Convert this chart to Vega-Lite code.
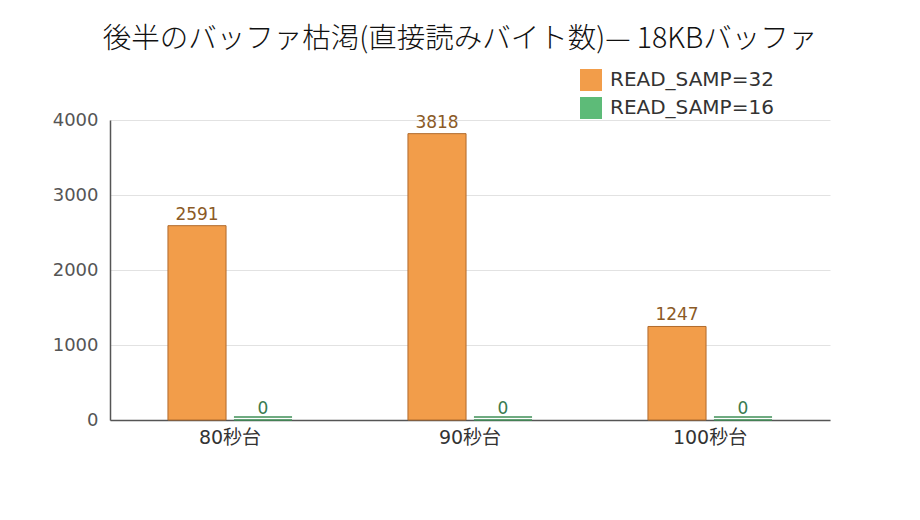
{
  "$schema": "https://vega.github.io/schema/vega-lite/v6.json",
  "autosize": {"type": "none"},
  "width": 720,
  "height": 300,
  "padding": {"left": 110, "top": 120, "right": 90, "bottom": 100},
  "background": "white",
  "config": {
    "font": "DejaVu Sans, Noto Sans CJK JP",
    "view": {"stroke": null}
  },
  "title": {
    "text": "後半のバッファ枯渇(直接読みバイト数)— 18KBバッファ",
    "font": "Noto Sans CJK JP",
    "fontSize": 28.5,
    "fontWeight": 300,
    "color": "#111",
    "anchor": "middle",
    "dx": -10,
    "offset": 16
  },
  "data": {
    "values": [
      {"period": "80秒台", "series": "READ_SAMP=32", "bytes": 2591},
      {"period": "80秒台", "series": "READ_SAMP=16", "bytes": 0},
      {"period": "90秒台", "series": "READ_SAMP=32", "bytes": 3818},
      {"period": "90秒台", "series": "READ_SAMP=16", "bytes": 0},
      {"period": "100秒台", "series": "READ_SAMP=32", "bytes": 1247},
      {"period": "100秒台", "series": "READ_SAMP=16", "bytes": 0}
    ]
  },
  "encoding": {
    "x": {
      "field": "period",
      "type": "nominal",
      "sort": ["80秒台", "90秒台", "100秒台"],
      "scale": {"paddingInner": 0.483, "paddingOuter": 0.2415},
      "axis": {
        "title": null,
        "labelAngle": 0,
        "labelFontSize": 19,
        "labelColor": "#333",
        "labelPadding": 8,
        "ticks": false,
        "domainColor": "#555",
        "domainWidth": 1.5
      }
    },
    "xOffset": {
      "field": "series",
      "type": "nominal",
      "sort": ["READ_SAMP=32", "READ_SAMP=16"],
      "scale": {"paddingInner": 0.12, "paddingOuter": 0}
    },
    "y": {
      "field": "bytes",
      "type": "quantitative",
      "scale": {"domain": [0, 4000]},
      "axis": {
        "title": null,
        "values": [0, 1000, 2000, 3000, 4000],
        "format": "d",
        "labelFontSize": 18,
        "labelColor": "#555",
        "labelPadding": 12,
        "ticks": false,
        "gridColor": "#e2e2e2",
        "domainColor": "#555",
        "domainWidth": 1.5
      }
    }
  },
  "layer": [
    {
      "mark": {"type": "bar", "strokeWidth": 1},
      "encoding": {
        "color": {
          "field": "series",
          "type": "nominal",
          "sort": ["READ_SAMP=32", "READ_SAMP=16"],
          "scale": {"domain": ["READ_SAMP=32", "READ_SAMP=16"], "range": ["#F29D4A", "#5DBB78"]},
          "legend": {
            "title": null,
            "orient": "none",
            "legendX": 470,
            "legendY": -51,
            "symbolType": "square",
            "symbolSize": 484,
            "symbolStrokeWidth": 0,
            "labelFontSize": 20,
            "labelLimit": 400,
            "labelColor": "#333",
            "labelOffset": 8,
            "rowPadding": 6
          }
        },
        "stroke": {
          "field": "series",
          "type": "nominal",
          "scale": {"domain": ["READ_SAMP=32", "READ_SAMP=16"], "range": ["#B06A2C", "#3E8F56"]},
          "legend": null
        }
      }
    },
    {
      "transform": [{"filter": "datum.bytes == 0"}],
      "mark": {"type": "bar", "yOffset": -3, "y2Offset": 0, "color": "#5DBB78", "stroke": "#3E8F56", "strokeWidth": 1}
    },
    {
      "mark": {"type": "text", "fontSize": 17, "dy": -6, "baseline": "alphabetic"},
      "encoding": {
        "text": {"field": "bytes", "type": "quantitative"},
        "color": {
          "condition": {"test": "datum.series == 'READ_SAMP=32'", "value": "#8B5A26"},
          "value": "#3A7A4E"
        }
      }
    }
  ]
}
